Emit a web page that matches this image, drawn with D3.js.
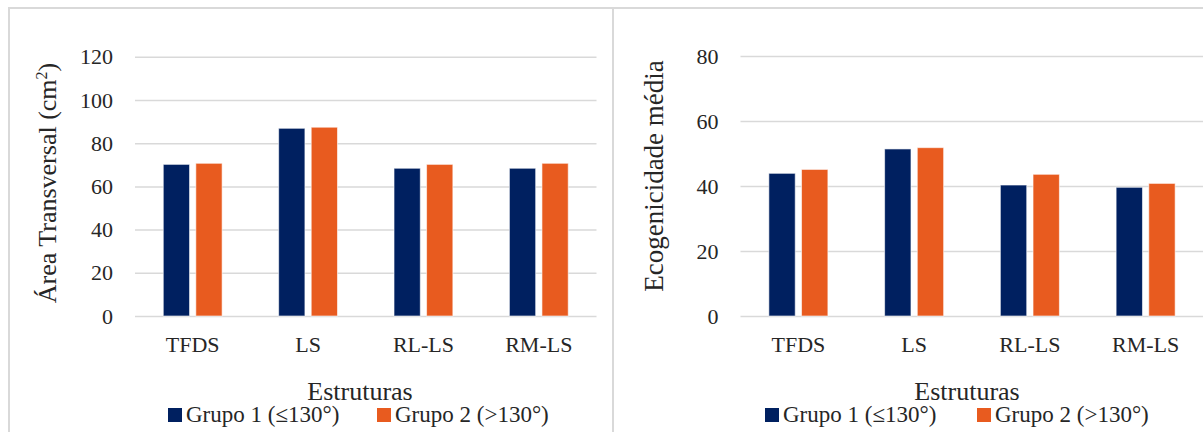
<!DOCTYPE html>
<html><head><meta charset="utf-8">
<script src="https://cdn.jsdelivr.net/npm/d3@7"></script>
<style>body{margin:0;background:#fff}svg{display:block}</style>
</head><body>
<script>
const categories = ["TFDS", "LS", "RL-LS", "RM-LS"];
const seriesNames = ["Grupo 1 (\u2264130\u00b0)", "Grupo 2 (>130\u00b0)"];
const areaGrupo1 = [70.2, 86.9, 68.4, 68.4];
const areaGrupo2 = [70.7, 87.4, 70.2, 70.7];
const ecoGrupo1 = [43.9, 51.4, 40.3, 39.6];
const ecoGrupo2 = [45.1, 51.8, 43.6, 40.8];
const areaTicks = [0, 20, 40, 60, 80, 100, 120];
const ecoTicks = [0, 20, 40, 60, 80];
const colors = ["#002060", "#E85B1F"];

const FONT = "Liberation Serif";
const INK = "#262626";
const W = 1203, H = 432;
const svg = d3.select("body").append("svg").attr("width", W).attr("height", H);

function txt(sel, size) {
  return sel.style("font-family", FONT).style("font-size", size).attr("fill", INK);
}

// panel borders
svg.append("rect").attr("x", 9).attr("y", 8).attr("width", 604).attr("height", 500)
  .attr("fill", "none").attr("stroke", "#d9d9d9").attr("stroke-width", 2);
svg.append("rect").attr("x", 613).attr("y", 8).attr("width", 700).attr("height", 500)
  .attr("fill", "none").attr("stroke", "#d9d9d9").attr("stroke-width", 2);

function panel(cfg) {
  const g = svg.append("g");
  const x0 = d3.scaleBand().domain(categories).range([cfg.x0, cfg.x1]).paddingInner(0.49).paddingOuter(0.245);
  const x1 = d3.scaleBand().domain([0, 1]).range([0, x0.bandwidth()]).paddingInner(0.193);
  const y = d3.scaleLinear().domain([0, cfg.max]).range([316, cfg.top]);

  const ax = d3.axisLeft(y).tickValues(cfg.ticks).tickSize(-(cfg.x1 - cfg.x0)).tickPadding(22);
  const ag = g.append("g").attr("transform", `translate(${cfg.x0},0)`).call(ax);
  ag.attr("font-family", null).attr("font-size", null);
  ag.select(".domain").remove();
  ag.selectAll(".tick line").attr("stroke", "#d9d9d9").attr("stroke-width", 1.5);
  txt(ag.selectAll(".tick text"), "22px");

  [cfg.s1, cfg.s2].forEach((vals, si) => {
    g.selectAll(null).data(vals).enter().append("rect")
      .attr("x", (d, i) => x0(categories[i]) + x1(si))
      .attr("y", d => y(d))
      .attr("width", x1.bandwidth())
      .attr("height", d => 316 - y(d))
      .attr("fill", colors[si])
      .attr("stroke", "#ffffff").attr("stroke-opacity", 0.6).attr("stroke-width", 1);
  });

  txt(g.selectAll(null).data(categories).enter().append("text")
    .attr("x", d => x0(d) + x0.bandwidth() / 2).attr("y", 352)
    .attr("text-anchor", "middle").text(d => d), "22px");

  txt(g.append("text").attr("x", cfg.xTitleX).attr("y", 400).attr("text-anchor", "middle")
    .text("Estruturas"), "26px");

  const yt = txt(g.append("text").attr("transform", `translate(${cfg.yTitleX},${cfg.yTitleY}) rotate(-90)`)
    .attr("text-anchor", "middle"), cfg.yTitleSize);
  cfg.yTitle(yt);

  cfg.legendX.forEach((lx, i) => {
    g.append("rect").attr("x", lx).attr("y", 408).attr("width", 14).attr("height", 14).attr("fill", colors[i]);
    txt(g.append("text").attr("x", lx + 18).attr("y", 422).text(seriesNames[i]), "23px");
  });
}

panel({
  x0: 135, x1: 596.5, top: 56.8, max: 120, ticks: areaTicks, s1: areaGrupo1, s2: areaGrupo2,
  xTitleX: 360, yTitleX: 56, yTitleY: 183, yTitleSize: "26px",
  yTitle: t => {
    t.append("tspan").text("\u00c1rea Transversal (cm");
    t.append("tspan").attr("dy", -9).style("font-size", "16px").text("2");
    t.append("tspan").attr("dy", 9).text(")");
  },
  legendX: [168, 377]
});

panel({
  x0: 740.5, x1: 1203.5, top: 56, max: 80, ticks: ecoTicks, s1: ecoGrupo1, s2: ecoGrupo2,
  xTitleX: 967, yTitleX: 663, yTitleY: 176, yTitleSize: "27px",
  yTitle: t => { t.text("Ecogenicidade m\u00e9dia"); },
  legendX: [765, 977]
});
</script>
</body></html>
